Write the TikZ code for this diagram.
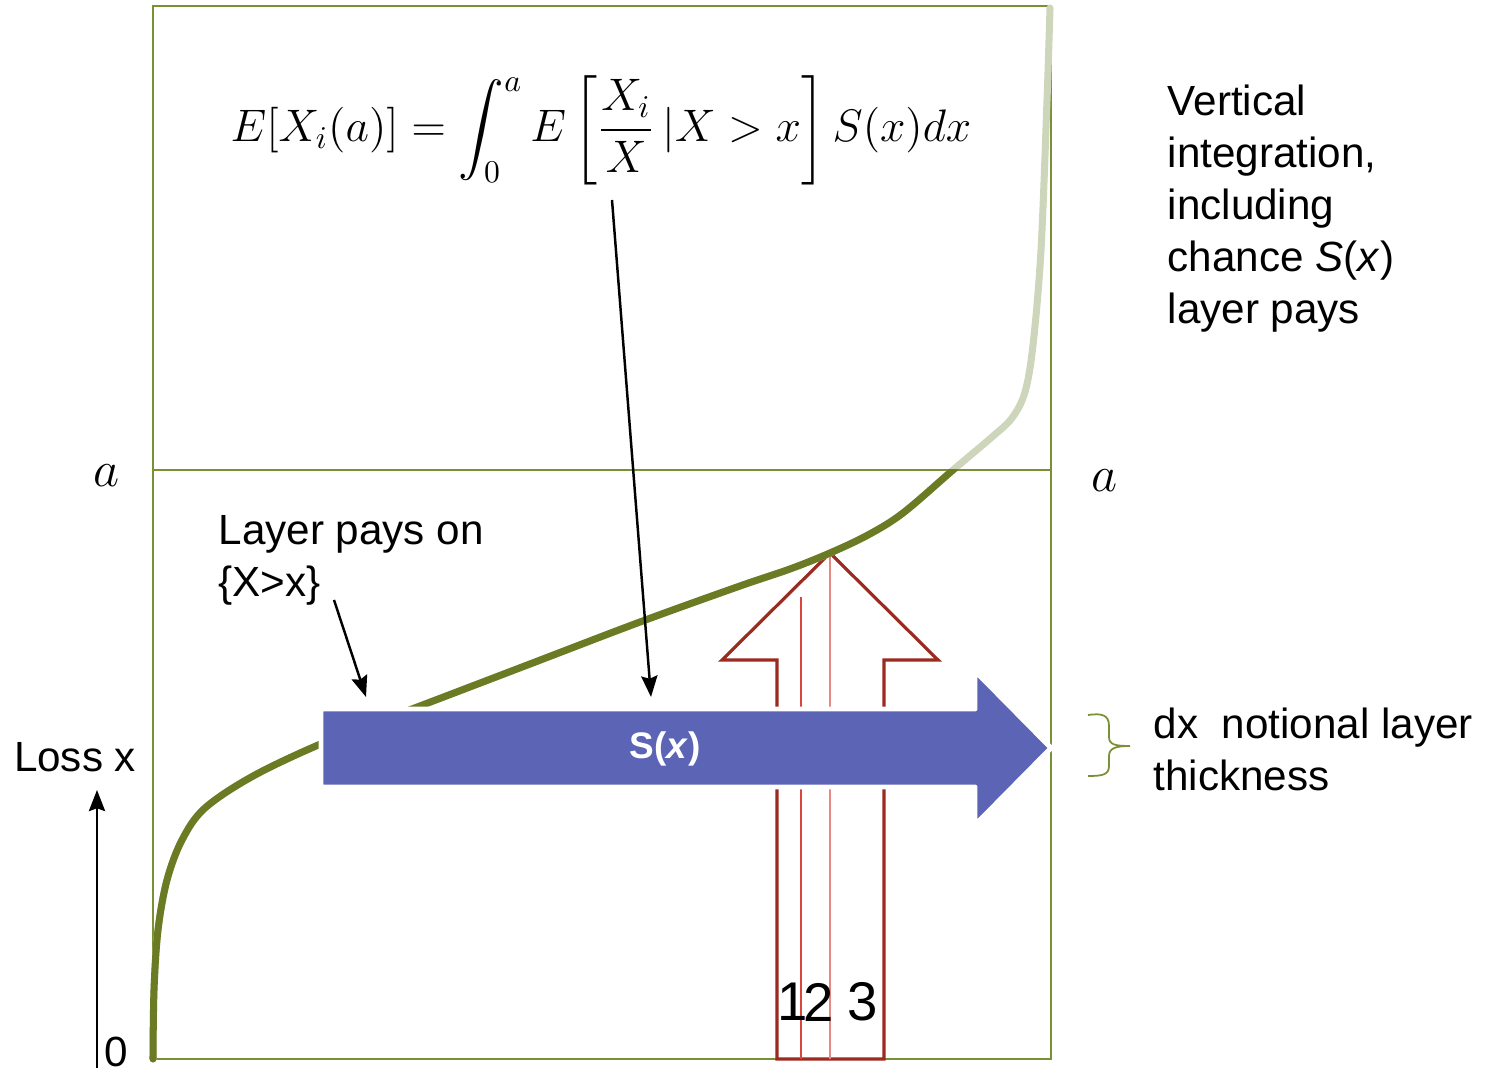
\documentclass[tikz,border=0pt]{standalone}
\usepackage{amsmath}
\usepackage{fontspec}
\setmainfont{Liberation Sans}
\usetikzlibrary{arrows.meta}
\definecolor{boxolive}{HTML}{7A9035}
\definecolor{curveolive}{HTML}{6B7B23}
\definecolor{paleolive}{HTML}{CDD6BB}
\definecolor{layerblue}{HTML}{5B64B5}
\definecolor{arrowred}{HTML}{9B2A1F}
\definecolor{stripred}{HTML}{D9473A}
\definecolor{strippink}{HTML}{E58A82}

\begin{document}
\begin{tikzpicture}[>={Stealth[length=6pt, width=4.6pt, inset=0.8pt]}, x=0.01cm, y=-0.01cm,
    txt/.style={font=\fontsize{12}{14.8}\selectfont, inner sep=0pt, align=left},
    pointer/.style={->, black, line width=0.7pt},
    lossline/.style={line width=2pt, line cap=round, line join=round}]

    \useasboundingbox (0,0) rectangle (1497,1071);

    % =================================================================
    % PART 1: FRAME, LEVEL a AND LOSS AXIS
    % =================================================================
    \draw[boxolive, line width=0.6pt] (153,6) rectangle (1051,1059);
    \draw[boxolive, line width=0.4pt] (153,470) -- (1051,470);

    \node (aleft) at (107,476) {\fontsize{14}{16}\selectfont $a$};
    \node (aright) at (1104,481) {\fontsize{14}{16}\selectfont $a$};

    % Loss axis at the left
    \node[txt] (zero) at (116,1052) {0};
    \node[txt] (loss) at (75,757) {Loss x};
    \coordinate (axisbot) at (97,1068);
    \coordinate (axistop) at (97,790);
    \draw[pointer] (axisbot) -- (axistop);

    % =================================================================
    % PART 2: UPWARD ARROW (VERTICAL INTEGRATION) WITH STRIPS 1, 2, 3
    % =================================================================
    \draw[arrowred, line width=0.9pt, fill=white, line join=miter]
        (777,1059) -- (777,660) -- (722,660) -- (830,553) -- (938,660)
        -- (884,660) -- (884,1059) -- cycle;
    \draw[stripred, line width=0.5pt] (801,597) -- (801,1059);
    \draw[strippink, line width=0.5pt] (830,553) -- (830,1059);

    \node[font=\fontsize{15.5}{18}\selectfont, inner sep=0pt] (one) at (793,1002) {1};
    \node[font=\fontsize{15.5}{18}\selectfont, inner sep=0pt] (two) at (819,1002) {2};
    \node[font=\fontsize{15.5}{18}\selectfont, inner sep=0pt] (three) at (863,1002) {3};

    % =================================================================
    % PART 3: LOSS CURVE (PALE ABOVE a)
    % =================================================================
    \def\losscurve{plot[smooth, tension=0.55] coordinates {
        (153,1059) (154,990) (158,930) (167,880) (182,840) (205,808)
        (255,775) (330,740) (420,706) (530,664) (640,622) (740,586)
        (790,569) (830,553) (868,535) (903,513) (953,470) (992,437)
        (1012,418) (1025,392) (1033,345) (1041,250) (1047,100) (1050,8)}}
    \draw[lossline, paleolive] \losscurve;
    \begin{scope}
        \clip (0,470) rectangle (1497,1071);
        \draw[lossline, curveolive] \losscurve;
    \end{scope}

    % =================================================================
    % PART 4: HORIZONTAL LAYER ARROW S(x)
    % =================================================================
    \draw[white, line width=1.4pt, fill=layerblue, line join=round]
        (321,709) -- (975,709) -- (975,671) -- (1051,748) -- (975,825)
        -- (975,787) -- (321,787) -- cycle;
    \node[text=white, font=\fontsize{10.5}{13}\selectfont\bfseries] (sx) at (665,749) {S(\textit{x})};

    % =================================================================
    % PART 5: FORMULA AND LABELS
    % =================================================================
    \node[scale=0.9] (formula) at (601,130) {\fontsize{14.4}{17}\selectfont
        $\displaystyle E[X_i(a)] = \int_0^a E\left[\frac{X_i}{X}\,|X>x\right] S(x)dx$};
    \coordinate (fracbot) at (612,200);
    \coordinate (sxtop) at (651,697);
    \draw[pointer] (fracbot) -- (sxtop);

    \node[txt, anchor=north west] (pays) at (218,515) {Layer pays on\\\{X>x\}};
    \coordinate (paysfrom) at (334,600);
    \coordinate (paysto) at (366,697);
    \draw[pointer] (paysfrom) -- (paysto);

    \node[txt, anchor=north west] (vert) at (1167,84)
        {Vertical\\integration,\\including\\chance \textit{S}(\textit{x})\\layer pays};

    % Brace for the layer thickness
    \draw[boxolive, line width=0.5pt]
        (1088,715) .. controls (1102,713) and (1109,715) .. (1109,726) -- (1109,737)
        .. controls (1109,745) and (1116,746) .. (1130,746)
        .. controls (1116,746) and (1109,748) .. (1109,756) -- (1109,766)
        .. controls (1109,775) and (1102,776) .. (1088,776);
    \node[txt, anchor=north west] (thick) at (1153,707) {dx\ \ notional layer\\thickness};

\end{tikzpicture}
\end{document}
